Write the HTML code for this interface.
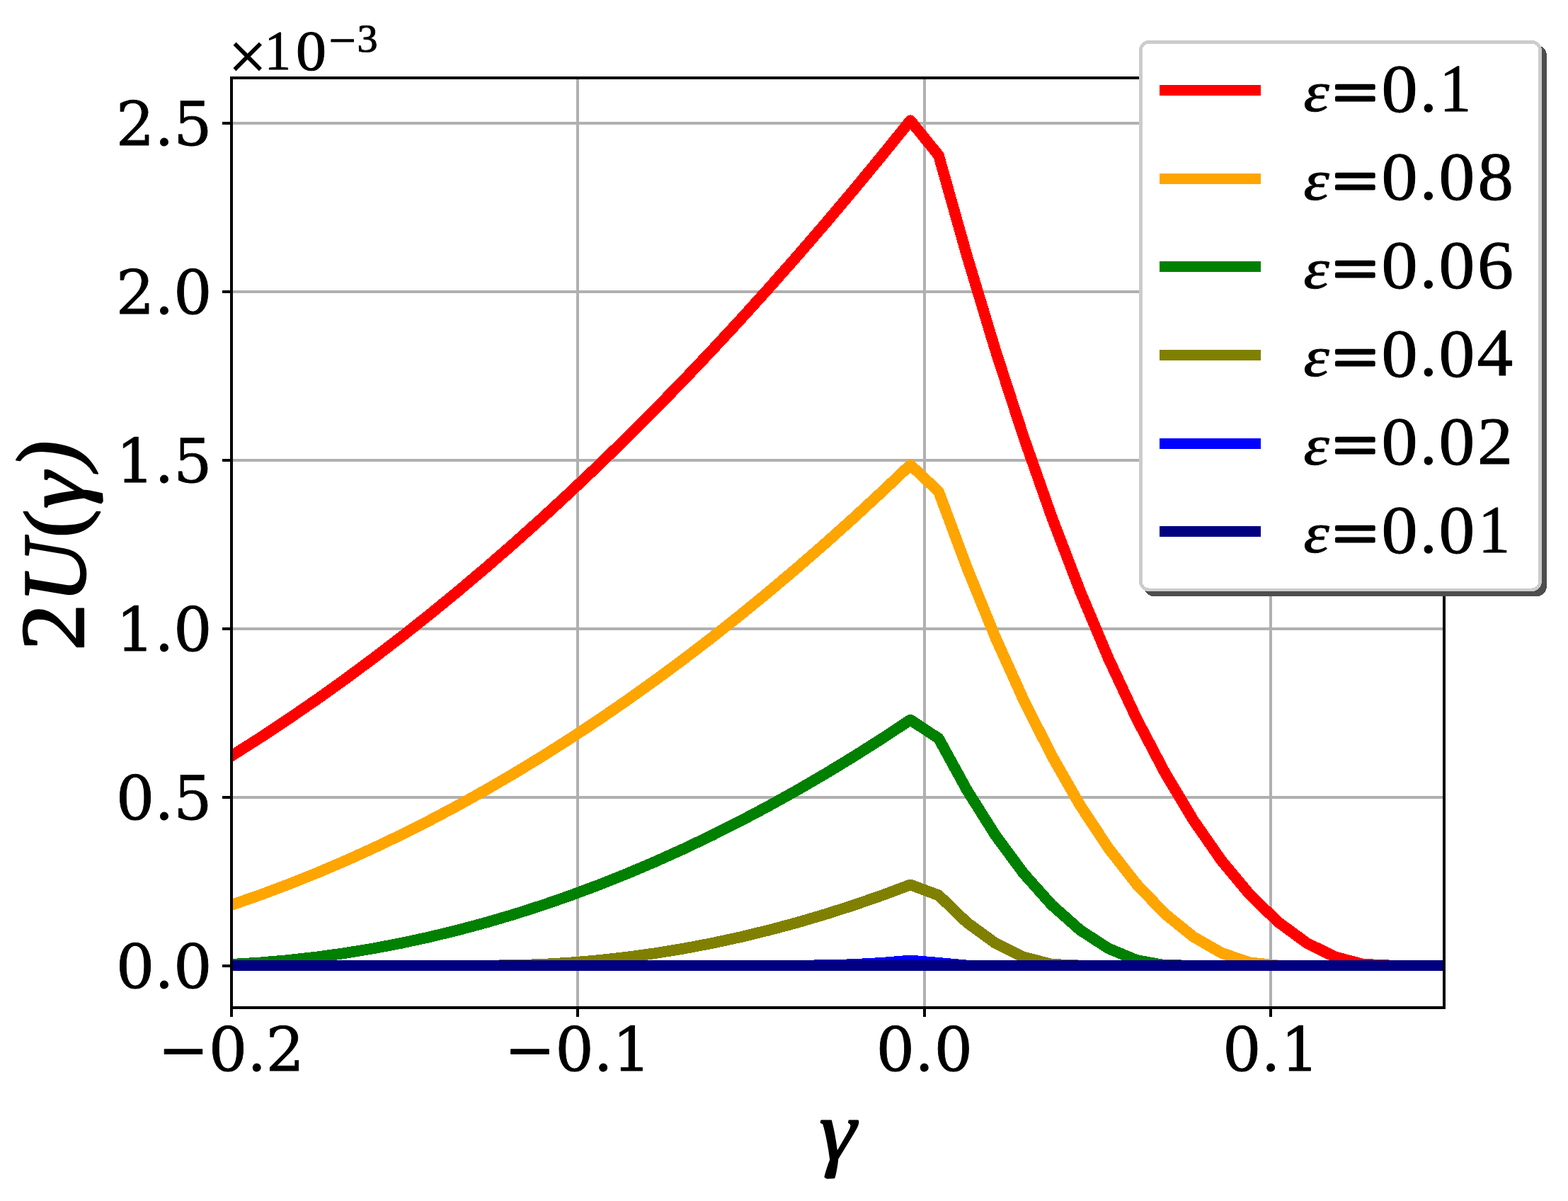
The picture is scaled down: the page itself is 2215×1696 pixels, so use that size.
<!DOCTYPE html>
<html lang="en"><head><meta charset="utf-8"><title>2U(γ) vs γ</title>
<style>html,body{margin:0;padding:0;background:#fff;overflow:hidden}svg{display:block}text{fill:#000;white-space:pre;text-rendering:geometricPrecision}.t{font-family:"DejaVu Serif","Liberation Serif",serif;font-style:normal}.m{font-family:"Liberation Serif","DejaVu Serif",serif;font-style:normal}.i{font-style:italic}.b{stroke:#000;stroke-width:1.0px;stroke-linejoin:round}.tb{stroke:#000;stroke-width:0.8px;stroke-linejoin:round}</style></head><body>
<svg width="2215" height="1696" viewBox="0 0 2215 1696">
<rect width="2215" height="1696" fill="#fff"/>
<defs><clipPath id="ax"><rect x="327.0" y="110.0" width="1713.0" height="1313.0"/></clipPath></defs>
<g fill="#b0b0b0" shape-rendering="crispEdges" clip-path="url(#ax)">
<rect x="814" y="110.0" width="4" height="1313.0"/>
<rect x="1304" y="110.0" width="4" height="1313.0"/>
<rect x="1793" y="110.0" width="4" height="1313.0"/>
<rect x="327.0" y="1362" width="1713.0" height="4"/>
<rect x="327.0" y="1124" width="1713.0" height="4"/>
<rect x="327.0" y="886" width="1713.0" height="4"/>
<rect x="327.0" y="648" width="1713.0" height="4"/>
<rect x="327.0" y="410" width="1713.0" height="4"/>
<rect x="327.0" y="172" width="1713.0" height="4"/>
</g>
<g fill="none" stroke-width="15.7" stroke-linejoin="round" stroke-linecap="square" shape-rendering="crispEdges" clip-path="url(#ax)">
<polyline stroke="#ff0000" points="327.00,1067.48 366.96,1042.10 406.92,1015.67 446.88,988.20 486.84,959.69 526.80,930.13 566.76,899.53 606.71,867.89 646.67,835.20 686.63,801.47 726.59,766.69 766.55,730.87 806.51,694.01 846.47,656.10 886.43,617.15 926.39,577.15 966.35,536.11 1006.31,494.03 1046.27,450.90 1086.22,406.73 1126.18,361.52 1166.14,315.26 1206.10,267.96 1246.06,219.61 1286.02,170.22 1325.98,219.54 1365.94,361.31 1405.90,493.70 1445.86,616.72 1485.82,730.36 1525.78,834.63 1565.73,929.52 1605.69,1015.04 1645.65,1091.19 1685.61,1157.95 1725.57,1215.35 1765.53,1263.37 1805.49,1302.01 1845.45,1331.28 1885.41,1351.17 1925.37,1361.69 1965.33,1363.50 2005.29,1363.50 2045.24,1363.50 2085.20,1363.50 2125.16,1363.50 2165.12,1363.50 2205.08,1363.50 2245.04,1363.50 2285.00,1363.50"/>
<polyline stroke="#ffa500" points="327.00,1277.90 366.96,1264.01 406.92,1249.08 446.88,1233.10 486.84,1216.08 526.80,1198.01 566.76,1178.90 606.71,1158.75 646.67,1137.55 686.63,1115.31 726.59,1092.03 766.55,1067.70 806.51,1042.33 846.47,1015.91 886.43,988.45 926.39,959.94 966.35,930.40 1006.31,899.81 1046.27,868.17 1086.22,835.49 1126.18,801.77 1166.14,767.00 1206.10,731.19 1246.06,694.34 1286.02,656.44 1325.98,694.28 1365.94,801.61 1405.90,899.56 1445.86,988.14 1485.82,1067.35 1525.78,1137.18 1565.73,1197.63 1605.69,1248.71 1645.65,1290.42 1685.61,1322.75 1725.57,1345.70 1765.53,1359.28 1805.49,1363.50 1845.45,1363.50 1885.41,1363.50 1925.37,1363.50 1965.33,1363.50 2005.29,1363.50 2045.24,1363.50 2085.20,1363.50 2125.16,1363.50 2165.12,1363.50 2205.08,1363.50 2245.04,1363.50 2285.00,1363.50"/>
<polyline stroke="#008000" points="327.00,1361.84 366.96,1359.45 406.92,1356.02 446.88,1351.55 486.84,1346.04 526.80,1339.48 566.76,1331.87 606.71,1323.22 646.67,1313.53 686.63,1302.80 726.59,1291.02 766.55,1278.20 806.51,1264.33 846.47,1249.42 886.43,1233.46 926.39,1216.46 966.35,1198.42 1006.31,1179.34 1046.27,1159.21 1086.22,1138.03 1126.18,1115.81 1166.14,1092.55 1206.10,1068.25 1246.06,1042.90 1286.02,1016.50 1325.98,1042.86 1365.94,1115.71 1405.90,1179.18 1445.86,1233.28 1485.82,1278.01 1525.78,1313.36 1565.73,1339.33 1605.69,1355.93 1645.65,1363.16 1685.61,1363.50 1725.57,1363.50 1765.53,1363.50 1805.49,1363.50 1845.45,1363.50 1885.41,1363.50 1925.37,1363.50 1965.33,1363.50 2005.29,1363.50 2045.24,1363.50 2085.20,1363.50 2125.16,1363.50 2165.12,1363.50 2205.08,1363.50 2245.04,1363.50 2285.00,1363.50"/>
<polyline stroke="#808000" points="327.00,1363.50 366.96,1363.50 406.92,1363.50 446.88,1363.50 486.84,1363.50 526.80,1363.50 566.76,1363.50 606.71,1363.50 646.67,1363.50 686.63,1363.50 726.59,1363.18 766.55,1361.84 806.51,1359.45 846.47,1356.02 886.43,1351.55 926.39,1346.03 966.35,1339.47 1006.31,1331.87 1046.27,1323.22 1086.22,1313.52 1126.18,1302.79 1166.14,1291.01 1206.10,1278.18 1246.06,1264.32 1286.02,1249.41 1325.98,1264.29 1365.94,1302.74 1405.90,1331.80 1445.86,1351.49 1485.82,1361.81 1525.78,1363.50 1565.73,1363.50 1605.69,1363.50 1645.65,1363.50 1685.61,1363.50 1725.57,1363.50 1765.53,1363.50 1805.49,1363.50 1845.45,1363.50 1885.41,1363.50 1925.37,1363.50 1965.33,1363.50 2005.29,1363.50 2045.24,1363.50 2085.20,1363.50 2125.16,1363.50 2165.12,1363.50 2205.08,1363.50 2245.04,1363.50 2285.00,1363.50"/>
<polyline stroke="#0000ff" points="327.00,1363.50 366.96,1363.50 406.92,1363.50 446.88,1363.50 486.84,1363.50 526.80,1363.50 566.76,1363.50 606.71,1363.50 646.67,1363.50 686.63,1363.50 726.59,1363.50 766.55,1363.50 806.51,1363.50 846.47,1363.50 886.43,1363.50 926.39,1363.50 966.35,1363.50 1006.31,1363.50 1046.27,1363.50 1086.22,1363.50 1126.18,1363.50 1166.14,1363.27 1206.10,1362.06 1246.06,1359.80 1286.02,1356.50 1325.98,1359.80 1365.94,1363.50 1405.90,1363.50 1445.86,1363.50 1485.82,1363.50 1525.78,1363.50 1565.73,1363.50 1605.69,1363.50 1645.65,1363.50 1685.61,1363.50 1725.57,1363.50 1765.53,1363.50 1805.49,1363.50 1845.45,1363.50 1885.41,1363.50 1925.37,1363.50 1965.33,1363.50 2005.29,1363.50 2045.24,1363.50 2085.20,1363.50 2125.16,1363.50 2165.12,1363.50 2205.08,1363.50 2245.04,1363.50 2285.00,1363.50"/>
<polyline stroke="#000080" points="327.00,1363.50 366.96,1363.50 406.92,1363.50 446.88,1363.50 486.84,1363.50 526.80,1363.50 566.76,1363.50 606.71,1363.50 646.67,1363.50 686.63,1363.50 726.59,1363.50 766.55,1363.50 806.51,1363.50 846.47,1363.50 886.43,1363.50 926.39,1363.50 966.35,1363.50 1006.31,1363.50 1046.27,1363.50 1086.22,1363.50 1126.18,1363.50 1166.14,1363.50 1206.10,1363.50 1246.06,1363.50 1286.02,1363.50 1325.98,1363.50 1365.94,1363.50 1405.90,1363.50 1445.86,1363.50 1485.82,1363.50 1525.78,1363.50 1565.73,1363.50 1605.69,1363.50 1645.65,1363.50 1685.61,1363.50 1725.57,1363.50 1765.53,1363.50 1805.49,1363.50 1845.45,1363.50 1885.41,1363.50 1925.37,1363.50 1965.33,1363.50 2005.29,1363.50 2045.24,1363.50 2085.20,1363.50 2125.16,1363.50 2165.12,1363.50 2205.08,1363.50 2245.04,1363.50 2285.00,1363.50"/>
</g>
<g fill="#000" shape-rendering="crispEdges">
<rect x="325" y="1423.0" width="4" height="13"/>
<rect x="814" y="1423.0" width="4" height="13"/>
<rect x="1304" y="1423.0" width="4" height="13"/>
<rect x="1793" y="1423.0" width="4" height="13"/>
<rect x="314" y="1362" width="13" height="4"/>
<rect x="314" y="1124" width="13" height="4"/>
<rect x="314" y="886" width="13" height="4"/>
<rect x="314" y="648" width="13" height="4"/>
<rect x="314" y="410" width="13" height="4"/>
<rect x="314" y="172" width="13" height="4"/>
</g>
<rect x="327.0" y="110.0" width="1713.0" height="1313.0" fill="none" stroke="#000" stroke-width="4" shape-rendering="crispEdges"/>
<text class="t tb" font-size="85.9" y="1395.10"><tspan x="163.80">0</tspan><tspan x="218.20">.</tspan><tspan x="245.10">0</tspan></text>
<text class="t tb" font-size="85.9" y="1157.00"><tspan x="163.80">0</tspan><tspan x="218.20">.</tspan><tspan x="245.10">5</tspan></text>
<text class="t tb" font-size="85.9" y="918.90"><tspan x="163.80">1</tspan><tspan x="218.20">.</tspan><tspan x="245.10">0</tspan></text>
<text class="t tb" font-size="85.9" y="680.80"><tspan x="163.80">1</tspan><tspan x="218.20">.</tspan><tspan x="245.10">5</tspan></text>
<text class="t tb" font-size="85.9" y="442.70"><tspan x="163.80">2</tspan><tspan x="218.20">.</tspan><tspan x="245.10">0</tspan></text>
<text class="t tb" font-size="85.9" y="204.60"><tspan x="163.80">2</tspan><tspan x="218.20">.</tspan><tspan x="245.10">5</tspan></text>
<text class="t tb" font-size="85.9" y="1511.90"><tspan x="223.00">−</tspan><tspan x="294.80">0</tspan><tspan x="349.00">.</tspan><tspan x="375.60">2</tspan></text>
<text class="t tb" font-size="85.9" y="1511.90"><tspan x="712.50">−</tspan><tspan x="784.30">0</tspan><tspan x="838.50">.</tspan><tspan x="865.10">1</tspan></text>
<text class="t tb" font-size="85.9" y="1511.90"><tspan x="1237.60">0</tspan><tspan x="1292.00">.</tspan><tspan x="1319.50">0</tspan></text>
<text class="t tb" font-size="85.9" y="1511.90"><tspan x="1727.10">0</tspan><tspan x="1781.50">.</tspan><tspan x="1809.00">1</tspan></text>
<text class="m b"><tspan class="m" x="322.58" y="112.14" font-size="96.51" textLength="54.35" lengthAdjust="spacingAndGlyphs">×</tspan><tspan class="m" x="373.73" y="97.50" font-size="78.92" textLength="37.35" lengthAdjust="spacingAndGlyphs">1</tspan><tspan class="m" x="418.03" y="98.91" font-size="80.47" textLength="42.94" lengthAdjust="spacingAndGlyphs">0</tspan><tspan class="m" x="464.62" y="80.07" font-size="68.27" textLength="38.30" lengthAdjust="spacingAndGlyphs">−</tspan><tspan class="m" x="504.61" y="73.06" font-size="55.37" textLength="29.17" lengthAdjust="spacingAndGlyphs">3</tspan></text>
<text class="m i b"><tspan class="m i" x="1157.43" y="1638.30" font-size="120.71" textLength="51.69" lengthAdjust="spacingAndGlyphs" style="stroke-width:2.2px">γ</tspan></text>
<text class="m b" transform="rotate(-90)"><tspan class="m" x="-918.96" y="118.10" font-size="128.68" textLength="66.73" lengthAdjust="spacingAndGlyphs" style="stroke-width:2.2px">2</tspan><tspan class="m i" x="-851.18" y="119.65" font-size="127.76" textLength="88.72" lengthAdjust="spacingAndGlyphs" style="stroke-width:2.2px">U</tspan><tspan class="m" x="-759.42" y="115.54" font-size="118.67" textLength="40.32" lengthAdjust="spacingAndGlyphs" style="stroke-width:2.2px">(</tspan><tspan class="m i" x="-718.36" y="119.40" font-size="120.71" textLength="51.49" lengthAdjust="spacingAndGlyphs" style="stroke-width:2.2px">γ</tspan><tspan class="m i" x="-662.93" y="110.92" font-size="126.72" textLength="40.58" lengthAdjust="spacingAndGlyphs" style="stroke-width:2.2px">)</tspan></text>
<rect x="1616.00" y="64.00" width="568.90" height="778.10" rx="14" ry="14" fill="#4d4d4d" shape-rendering="crispEdges"/>
<rect x="1611.3" y="59.3" width="564.30" height="773.50" rx="11.7" ry="11.7" fill="#fff" stroke="#ccc" stroke-width="4.6" shape-rendering="crispEdges"/>
<line x1="1638" y1="127.5" x2="1781" y2="127.5" stroke="#ff0000" stroke-width="15" shape-rendering="crispEdges"/>
<text class="m b"><tspan class="m i" x="1841.42" y="157.31" font-size="80.67" textLength="36.27" lengthAdjust="spacingAndGlyphs">ε</tspan><tspan class="m" x="1882.97" y="158.90" font-size="83.75" textLength="62.66" lengthAdjust="spacingAndGlyphs" style="stroke-width:3.8px">=</tspan><tspan class="m" x="1951.41" y="157.86" font-size="96.47" textLength="51.08" lengthAdjust="spacingAndGlyphs">0</tspan><tspan class="m" x="2005.74" y="156.65" font-size="95.63" textLength="24.12" lengthAdjust="spacingAndGlyphs">.</tspan><tspan class="m" x="2033.41" y="156.60" font-size="95.73" textLength="44.88" lengthAdjust="spacingAndGlyphs">1</tspan></text>
<line x1="1638" y1="252.18" x2="1781" y2="252.18" stroke="#ffa500" stroke-width="15" shape-rendering="crispEdges"/>
<text class="m b"><tspan class="m i" x="1841.42" y="281.91" font-size="80.67" textLength="36.27" lengthAdjust="spacingAndGlyphs">ε</tspan><tspan class="m" x="1882.97" y="283.50" font-size="83.75" textLength="62.66" lengthAdjust="spacingAndGlyphs" style="stroke-width:3.8px">=</tspan><tspan class="m" x="1951.41" y="282.46" font-size="96.47" textLength="51.08" lengthAdjust="spacingAndGlyphs">0</tspan><tspan class="m" x="2005.74" y="281.25" font-size="95.63" textLength="24.12" lengthAdjust="spacingAndGlyphs">.</tspan><tspan class="m" x="2032.64" y="282.46" font-size="96.47" textLength="50.73" lengthAdjust="spacingAndGlyphs">0</tspan><tspan class="m" x="2087.56" y="282.46" font-size="96.47" textLength="50.37" lengthAdjust="spacingAndGlyphs">8</tspan></text>
<line x1="1638" y1="376.86" x2="1781" y2="376.86" stroke="#008000" stroke-width="15" shape-rendering="crispEdges"/>
<text class="m b"><tspan class="m i" x="1841.42" y="406.51" font-size="80.67" textLength="36.27" lengthAdjust="spacingAndGlyphs">ε</tspan><tspan class="m" x="1882.97" y="408.10" font-size="83.75" textLength="62.66" lengthAdjust="spacingAndGlyphs" style="stroke-width:3.8px">=</tspan><tspan class="m" x="1951.41" y="407.06" font-size="96.47" textLength="51.08" lengthAdjust="spacingAndGlyphs">0</tspan><tspan class="m" x="2005.74" y="405.85" font-size="95.63" textLength="24.12" lengthAdjust="spacingAndGlyphs">.</tspan><tspan class="m" x="2032.64" y="407.06" font-size="96.47" textLength="50.73" lengthAdjust="spacingAndGlyphs">0</tspan><tspan class="m" x="2087.02" y="407.05" font-size="96.89" textLength="51.02" lengthAdjust="spacingAndGlyphs">6</tspan></text>
<line x1="1638" y1="501.54" x2="1781" y2="501.54" stroke="#808000" stroke-width="15" shape-rendering="crispEdges"/>
<text class="m b"><tspan class="m i" x="1841.42" y="531.11" font-size="80.67" textLength="36.27" lengthAdjust="spacingAndGlyphs">ε</tspan><tspan class="m" x="1882.97" y="532.70" font-size="83.75" textLength="62.66" lengthAdjust="spacingAndGlyphs" style="stroke-width:3.8px">=</tspan><tspan class="m" x="1951.41" y="531.66" font-size="96.47" textLength="51.08" lengthAdjust="spacingAndGlyphs">0</tspan><tspan class="m" x="2005.74" y="530.45" font-size="95.63" textLength="24.12" lengthAdjust="spacingAndGlyphs">.</tspan><tspan class="m" x="2032.64" y="531.66" font-size="96.47" textLength="50.73" lengthAdjust="spacingAndGlyphs">0</tspan><tspan class="m" x="2086.42" y="530.40" font-size="95.72" textLength="50.66" lengthAdjust="spacingAndGlyphs">4</tspan></text>
<line x1="1638" y1="626.22" x2="1781" y2="626.22" stroke="#0000ff" stroke-width="15" shape-rendering="crispEdges"/>
<text class="m b"><tspan class="m i" x="1841.42" y="655.71" font-size="80.67" textLength="36.27" lengthAdjust="spacingAndGlyphs">ε</tspan><tspan class="m" x="1882.97" y="657.30" font-size="83.75" textLength="62.66" lengthAdjust="spacingAndGlyphs" style="stroke-width:3.8px">=</tspan><tspan class="m" x="1951.41" y="656.26" font-size="96.47" textLength="51.08" lengthAdjust="spacingAndGlyphs">0</tspan><tspan class="m" x="2005.74" y="655.05" font-size="95.63" textLength="24.12" lengthAdjust="spacingAndGlyphs">.</tspan><tspan class="m" x="2032.64" y="656.26" font-size="96.47" textLength="50.73" lengthAdjust="spacingAndGlyphs">0</tspan><tspan class="m" x="2087.00" y="655.00" font-size="95.15" textLength="50.02" lengthAdjust="spacingAndGlyphs">2</tspan></text>
<line x1="1638" y1="750.9000000000001" x2="1781" y2="750.9000000000001" stroke="#000080" stroke-width="15" shape-rendering="crispEdges"/>
<text class="m b"><tspan class="m i" x="1841.42" y="780.31" font-size="80.67" textLength="36.27" lengthAdjust="spacingAndGlyphs">ε</tspan><tspan class="m" x="1882.97" y="781.90" font-size="83.75" textLength="62.66" lengthAdjust="spacingAndGlyphs" style="stroke-width:3.8px">=</tspan><tspan class="m" x="1951.41" y="780.86" font-size="96.47" textLength="51.08" lengthAdjust="spacingAndGlyphs">0</tspan><tspan class="m" x="2005.74" y="779.65" font-size="95.63" textLength="24.12" lengthAdjust="spacingAndGlyphs">.</tspan><tspan class="m" x="2032.64" y="780.86" font-size="96.47" textLength="50.73" lengthAdjust="spacingAndGlyphs">0</tspan><tspan class="m" x="2087.94" y="779.60" font-size="95.43" textLength="45.31" lengthAdjust="spacingAndGlyphs">1</tspan></text>
</svg></body></html>
